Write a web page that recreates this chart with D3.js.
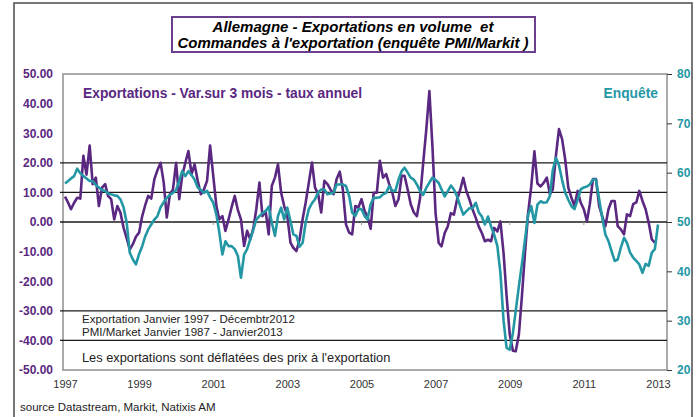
<!DOCTYPE html>
<html>
<head>
<meta charset="utf-8">
<script src="https://cdn.jsdelivr.net/npm/d3@7"></script>
<style>
  body { margin: 0; background: #fff; }
  text { font-family: "Liberation Sans", Arial, sans-serif; }
</style>
</head>
<body>
<svg id="chart" width="697" height="417"></svg>
<script>
// monthly series, first value = January 1997
var startYear = 1997;
// Exportations - var. sur 3 mois, taux annuel (Jan 1997 - Dec 2012), left axis
var exportsVals = [
  8.6, 6.5, 4.3, 6.5, 8.2, 7.9, 22.4, 16, 25.8, 12.8, 15, 5.4,
  11.6, 12.8, 8.8, 7.7, 0.9, 5.4, 3.2, -1.9, -5.5, -9.3, -7.5, -5.0,
  -3.6, 2, 5.5, 8.8, 7.9, 14.5, 17.5, 20, 13.3, 1.5, 9.4, 11,
  20, 7.7, 15.6, 20, 24, 16.2, 19.5, 13.9, 9.4, 11, 13.9, 25.8,
  15.6, 5.4, 0.9, 2, -3, 0.9, 5, 8.8, 4, 0.9, -8.1, -3,
  -5.9, -2, 4.3, 13.3, 2, 3.7, -4.2, 12.2, 15, 19.5, 9.9, 5.4,
  2, -7, -8.7, -9.8, -6, 1, 6.6, 13.3, 20.1, 11.6, 9.4, 3.2,
  13.9, 12.8, 11, 9.4, 14.5, 17, 11, -0.8, -3.6, -4.2, 5.4, 4.9,
  7.7, 3.7, 2, -2.3, 9.9, 9.9, 20.7, 15, 16.2, 12.8, 9.9, 5.4,
  7.7, 15.6, 15.6, 11, 6, 3.2, 2, 8, 20, 31, 44.2, 25.6,
  3, -7.1, -8.2, -3.7, -1.5, 3, 2.5, 7.6, 10.9, 14.9, 10.4, 7.6,
  4.2, 1.4, -1.5, -3.7, -6.5, -6, -6.5, -2, -3.2, 0.2, -10.5, -25,
  -38, -43.5, -43.7, -38, -25, -10, 3, 12, 23.9, 13, 12, 13.2,
  15, 9.4, 11, 22.4, 31.4, 28, 21.2, 11.6, 8.2, 5.4, 10.5, 6.6,
  4.3, 0.3, 6, 14.5, 14.5, 5.4, 2, -1.4, 4.3, 7.1, 7.1, -1.4,
  -2.5, -4.2, 2.6, 2, 6, 6.6, 10.5, 7.1, 4.3, -0.2, -5.9, -7
];
// Enquete PMI/Markit, commandes a l'exportation (Jan 1997 - Jan 2013), right axis
var pmiVals = [
  57.8, 58.3, 58.8, 59.3, 60.8, 59.9, 59.3, 58.8, 58.3, 58.3, 57.5, 57,
  56.5, 56.3, 55.8, 55.6, 55.4, 55.3, 54.6, 53, 49.9, 43.8, 42.4, 41.4,
  43.5, 45.1, 47, 48.5, 49.5, 50.5, 51.2, 53, 54, 54.9, 55.5, 55.9,
  56.5, 58.3, 60.3, 59.3, 60.3, 59.5, 58.6, 57, 56.5, 55.9, 56.3, 55,
  53.9, 51.5, 48, 43.4, 46.1, 45.1, 45.1, 44.5, 43.1, 38.7, 43.4, 44.5,
  46.5, 48.5, 50.5, 51.2, 51.8, 52.2, 53.1, 49.9, 47.2, 51.2, 52.9, 50.5,
  52.9, 50.2, 47.5, 47.2, 45, 45.8, 49.9, 52.6, 53.8, 54.6, 56, 56.6,
  56.6, 55.6, 55.8, 55.9, 57.6, 57.6, 57.6, 57.3, 55.3, 51.9, 51.2, 52.6,
  52.6, 51.2, 50.5, 53.6, 54.9, 54.9, 55, 55.6, 55.9, 57.3, 56.3, 56.3,
  58.6, 60.3, 61, 60, 59, 58.6, 57.6, 56.3, 55.5, 56.9, 58, 59,
  58.5, 57.9, 56.6, 55.2, 56.2, 57.4, 56.6, 55.2, 53.2, 51.5, 52.2, 52.8,
  52.8, 53.9, 52, 51.1, 49.5, 51.1, 49.1, 47.4, 45.1, 39.7, 30, 24.5,
  24.1, 27.5, 32, 37, 41.5, 46.5, 51.5, 53.2, 49.8, 53.5, 54.2, 53.9,
  54, 55.3, 60.5, 63, 61.5, 58.5, 56, 54.5, 53.2, 52.6, 54.5, 56.6,
  57, 57.2, 57.6, 58.6, 58.6, 54.6, 50.9, 47.5, 46.1, 44.1, 42.1, 42.4,
  44.8, 46.8, 45.8, 43.8, 42.8, 42.1, 41.4, 39.7, 41.5, 41.1, 43.8, 44.5,
  49.5
];
var leftTicks = [50, 40, 30, 20, 10, 0, -10, -20, -30, -40, -50];
var rightTicks = [80, 70, 60, 50, 40, 30, 20];
var refLines = [20, 10, 0, -30, -40];
var yearTicks = [1997, 1999, 2001, 2003, 2005, 2007, 2009, 2011, 2013];

var titleLines = ["Allemagne - Exportations en volume  et",
                  "Commandes à l'exportation (enquête PMI/Markit )"];
var noteLines = ["Exportation Janvier 1997 - Décembtr2012",
                 "PMI/Market Janvier 1987 - Janvier2013"];
var noteBottom = "Les exportations sont déflatées des prix à l'exportation";
var seriesLabels = ["Exportations - Var.sur 3 mois - taux annuel", "Enquête"];
var sourceText = "source Datastream, Markit, Natixis AM";

var purple = "#5a2781", teal = "#2497a5";

var svg = d3.select("#chart");
var plotL = 63, plotR = 667, plotT = 74, plotB = 370;

// outer frame
svg.append("rect").attr("x", 14).attr("y", 3).attr("width", 678).attr("height", 430)
  .attr("fill", "none").attr("stroke", "#555").attr("stroke-width", 1.6);

// title box
svg.append("rect").attr("x", 172).attr("y", 17).attr("width", 363).attr("height", 35)
  .attr("fill", "#fff").attr("stroke", "#6b3f8e").attr("stroke-width", 2);
svg.selectAll(".title").data(titleLines).enter().append("text")
  .attr("x", 353).attr("y", function(d, i) { return 32 + i * 16; })
  .attr("text-anchor", "middle").attr("xml:space", "preserve")
  .style("white-space", "pre")
  .style("font-size", "15px").style("font-weight", "bold").style("font-style", "italic")
  .style("fill", "#000")
  .text(function(d) { return d; });

var x = d3.scaleTime()
  .domain([new Date(startYear, 0, 1), new Date(2013, 0, 1)])
  .range([65, 658]);
var yL = d3.scaleLinear().domain([-50, 50]).range([plotB, plotT]);
var yR = d3.scaleLinear().domain([20, 80]).range([plotB, plotT]);

// plot frame
svg.append("rect").attr("x", plotL).attr("y", plotT)
  .attr("width", plotR - plotL).attr("height", plotB - plotT)
  .attr("fill", "#fff").attr("stroke", "#8f8f8f").attr("stroke-width", 1.5);

// reference lines
svg.selectAll(".ref").data(refLines).enter().append("line")
  .attr("x1", plotL - 3).attr("x2", plotR)
  .attr("y1", function(d) { return yL(d); }).attr("y2", function(d) { return yL(d); })
  .attr("stroke", "#1a1a1a").attr("stroke-width", 1.3);

// small ticks on the zero line
svg.selectAll(".zt").data(yearTicks.slice(1, -1)).enter().append("line")
  .attr("x1", function(d) { return x(new Date(d, 0, 1)); })
  .attr("x2", function(d) { return x(new Date(d, 0, 1)); })
  .attr("y1", yL(0)).attr("y2", yL(0) + 3)
  .attr("stroke", "#999").attr("stroke-width", 1);

// axes
var gl = svg.append("g").attr("transform", "translate(" + plotL + ",0)")
  .call(d3.axisLeft(yL).tickValues(leftTicks).tickSize(0).tickPadding(10)
    .tickFormat(function(d) { return d.toFixed(2); }));
gl.select(".domain").remove();
gl.selectAll("text").style("font-size", "12px").style("font-weight", "bold")
  .style("fill", purple).style("font-family", "Liberation Sans, Arial, sans-serif");

var gr = svg.append("g").attr("transform", "translate(" + plotR + ",0)")
  .call(d3.axisRight(yR).tickValues(rightTicks).tickSize(5).tickPadding(5));
gr.select(".domain").remove();
gr.selectAll("line").attr("stroke", "#333");
gr.selectAll("text").style("font-size", "12px").style("font-weight", "bold")
  .style("fill", teal).style("font-family", "Liberation Sans, Arial, sans-serif");

var gb = svg.append("g").attr("transform", "translate(0," + plotB + ")")
  .call(d3.axisBottom(x).tickValues(yearTicks.map(function(y) { return new Date(y, 0, 1); }))
    .tickSize(0).tickPadding(10).tickFormat(d3.timeFormat("%Y")));
gb.select(".domain").remove();
gb.selectAll("text").style("font-size", "11px").style("fill", "#333")
  .style("font-family", "Liberation Sans, Arial, sans-serif");

// series
var lineL = d3.line()
  .x(function(d, i) { return x(new Date(startYear, i, 1)); })
  .y(function(d) { return yL(d); });
var lineR = d3.line()
  .x(function(d, i) { return x(new Date(startYear, i, 1)); })
  .y(function(d) { return yR(d); });

svg.append("path").datum(exportsVals).attr("d", lineL)
  .attr("fill", "none").attr("stroke", purple).attr("stroke-width", 2.6)
  .attr("stroke-linejoin", "round");
svg.append("path").datum(pmiVals).attr("d", lineR)
  .attr("fill", "none").attr("stroke", teal).attr("stroke-width", 2.6)
  .attr("stroke-linejoin", "round");

// series labels
svg.append("text").attr("x", 83).attr("y", 98).text(seriesLabels[0])
  .style("font-size", "13.8px").style("font-weight", "bold").style("fill", purple);
svg.append("text").attr("x", 658).attr("y", 98).attr("text-anchor", "end").text(seriesLabels[1])
  .style("font-size", "13.8px").style("font-weight", "bold").style("fill", teal);

// notes
svg.selectAll(".note").data(noteLines).enter().append("text")
  .attr("x", 82).attr("y", function(d, i) { return 323 + i * 12.5; })
  .style("font-size", "11.5px").style("fill", "#222")
  .text(function(d) { return d; });
svg.append("text").attr("x", 82).attr("y", 362).text(noteBottom)
  .style("font-size", "12.8px").style("fill", "#222");

svg.append("text").attr("x", 20).attr("y", 411).text(sourceText)
  .style("font-size", "11.5px").style("fill", "#222");
</script>
</body>
</html>
